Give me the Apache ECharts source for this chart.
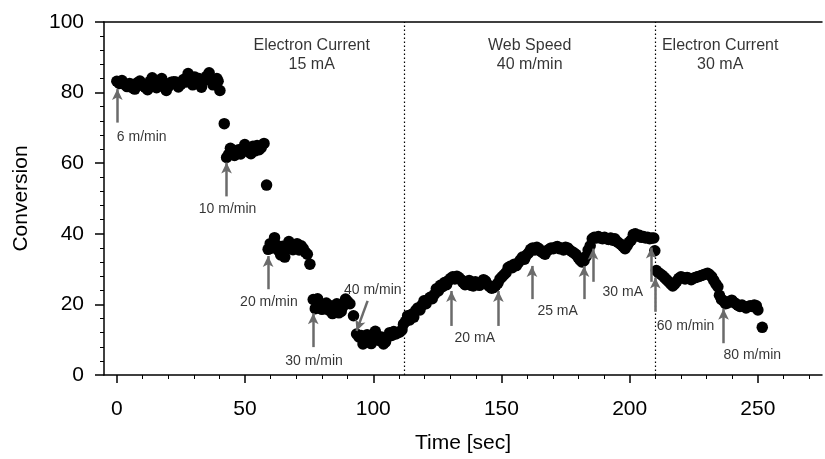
<!DOCTYPE html>
<html>
<head>
<meta charset="utf-8">
<script src="https://cdn.jsdelivr.net/npm/echarts@6/dist/echarts.min.js"></script>
<style>
  html, body { margin: 0; padding: 0; background: #fff; }
  #main { width: 825px; height: 459px; }
</style>
</head>
<body>
<div id="main"></div>
<script>
// conversion vs time, one array per regime  [time (s), conversion]
var speed6 = [[0,83.2],[1,82.6],[2,83.4],[3,82.3],[4,81.7],[5,82.6],[6,81.4],[7,81.0],[8,82.8],[9,83.3],
  [10,82.0],[11,81.5],[12,80.8],[13,83.2],[13.8,84.2],[14.6,82.5],[15.5,81.4],[16.5,83.0],[17.5,84.0],
  [18.5,81.6],[19.3,80.6],[20.2,81.8],[21.2,82.9],[22.2,83.1],[23,83.0],[24,81.6],[25,82.4],[26,83.7],
  [27,83.0],[27.8,85.4],[28.8,83.8],[29.6,82.2],[30.4,84.4],[31.2,83.1],[32,84.0],[33,81.5],[34,83.4],
  [35,84.6],[36,85.6],[36.8,84.0],[37.5,82.2],[38.3,83.0],[39,84.0],[39.5,83.2],[40.2,80.6],[41.9,71.2]];
var speed10 = [[42.8,61.6],[43.6,62.5],[44.3,64.2],[45.1,63.0],[45.9,62.2],[46.7,63.5],[47.5,63.8],
  [48.3,62.6],[49.1,64.0],[49.9,65.3],[50.7,64.5],[51.5,63.2],[52.3,62.7],[53.1,64.8],[53.9,63.5],
  [54.7,65.0],[55.5,63.8],[56.3,64.4],[57.4,65.6],[58.4,53.8]];
var speed20 = [[59,35.6],[59.8,37.2],[60.6,36.0],[61.5,38.9],[62.3,36.8],[63.1,35.2],[63.9,34.0],
  [64.7,36.5],[65.5,33.4],[66.3,35.8],[67.1,37.8],[67.9,37.0],[68.7,35.5],[69.5,36.2],[70.3,37.2],
  [71.1,35.4],[71.9,36.6],[72.7,35.8],[73.5,34.8],[74.3,34.2],[75.3,31.4]];
var speed30 = [[76.6,21.4],[77.4,18.8],[78.3,21.6],[79.1,19.4],[80,18.6],[80.8,19.8],[81.7,20.4],
  [82.5,18.4],[83.3,19.6],[84.1,17.4],[85,18.8],[85.8,20.2],[86.6,17.6],[87.5,18.0],[88.3,19.5],
  [89.2,21.5],[90,20.8],[90.9,20.2],[92.3,16.8]];
var speed40 = [[93.5,11.6],[94.4,10.8],[95.3,11.2],[96,8.8],[96.8,9.8],[97.6,11.4],[98.4,10.6],
  [99.2,8.9],[100,10.5],[100.8,12.4],[101.6,10.0],[102.4,9.8],[103.2,10.8],[104,8.8],[104.8,9.4],
  [105.6,10.8],[106.4,12.0],[107.2,11.2],[108,12.3],[108.8,11.6],[109.6,12.0],[110.4,12.2],
  [111.2,12.8],[111.8,14.4]];
var current20 = [[112.6,15.2],[113.4,16.8],[114.2,15.6],[115,17.2],[115.8,16.4],[116.6,18.3],
  [117.4,19.0],[118.2,18.4],[119,19.8],[119.8,21.0],[120.6,20.2],[121.4,21.4],[122.2,22.0],
  [123,21.6],[123.8,22.8],[124.6,24.4],[125.4,23.8],[126.2,25.4],[127,25.0],[127.8,26.2],
  [128.6,25.6],[129.4,26.8],[130.2,27.4],[131,27.8],[131.8,27.2],[132.6,28.0],[133.4,27.6],
  [134.2,27.0],[135,26.2],[135.8,25.6],[136.6,26.0],[137.4,26.8],[138.2,25.4],[139,25.2],
  [139.8,26.4],[140.6,26.0],[141.4,25.4],[142.2,26.2],[143,27.0],[143.8,26.6],[144.6,25.6],
  [145.4,25.0],[146.2,24.6],[147,24.8],[147.8,25.4],[148.6,26.0]];
var current25 = [[149.4,27.2],[150.2,27.8],[151,28.4],[151.8,29.0],[152.6,30.4],[153.4,30.8],
  [154.2,30.4],[155,31.4],[155.8,31.0],[156.6,31.8],[157.4,32.6],[158.2,33.4],[159,32.8],
  [159.8,34.0],[160.6,34.6],[161.4,35.6],[162.2,36.0],[163,35.4],[163.8,36.2],[164.6,35.8],
  [165.4,35.0],[166.2,34.6],[167,34.2],[167.8,35.2],[168.6,35.6],[169.4,36.0],[170.2,35.8],
  [171,36.2],[171.8,36.4],[172.6,35.8],[173.4,36.0],[174.2,35.4],[175,36.2],[175.8,36.0],
  [176.6,35.4],[177.4,35.0],[178.2,34.6],[179,34.2],[179.8,33.4],[180.6,32.6],[181.4,32.0],
  [182.2,32.4],[183,33.6],[183.8,35.4]];
var current30 = [[184.6,36.6],[185.4,38.6],[186.2,39.0],[187,38.8],[187.8,39.2],[188.6,38.8],
  [189.4,38.6],[190.2,39.0],[191,38.6],[191.8,38.4],[192.6,38.8],[193.4,38.2],[194.2,38.6],
  [195,37.8],[195.8,37.4],[196.6,37.0],[197.4,36.4],[198.2,35.8],[199,36.6],[199.8,37.6],
  [200.6,38.2],[201.4,39.8],[202.2,40.0],[203,39.4],[203.8,39.6],[204.6,39.0],[205.4,39.2],
  [206.2,38.8],[207,39.0],[207.8,38.6],[208.6,38.8],[209.4,38.8],[209.8,35.2]];
var speed60 = [[210.4,29.6],[211.2,29.0],[212,28.6],[212.8,28.2],[213.6,27.6],[214.4,27.0],
  [215.2,26.4],[216,25.8],[216.8,25.2],[217.6,25.8],[218.4,26.6],[219.2,27.4],[220,27.8],
  [220.8,27.6],[221.6,27.2],[222.4,27.6],[223.2,27.4],[224,27.0],[224.8,27.4],[225.6,27.6],
  [226.4,27.8],[227.2,28.0],[228,28.2],[228.8,28.4],[229.6,28.6],[230.4,28.8],[231.2,28.4],
  [232,27.8],[232.8,26.8],[233.6,25.8],[234.4,25.0]];
var speed80 = [[235,22.6],[235.8,21.4],[236.6,21.0],[237.4,20.2],[238.2,20.4],[239,20.8],
  [239.8,21.2],[240.6,20.6],[241.4,20.2],[242.2,19.8],[243,19.4],[243.8,19.8],[244.6,19.4],
  [245.4,19.0],[246.2,19.4],[247,19.6],[247.8,19.4],[248.6,19.8],[249.4,19.6],[250,18.4],[251.7,13.5]];

// arrows: [tail t, tail y, tip t, tip y]
var arrows = [[0.2,71.5,0.2,81.0],[42.8,50.6,42.8,60.2],[59.0,24.3,59.0,33.7],[76.6,7.9,76.6,17.5],
  [97.8,21.0,93.5,12.5],[130.5,13.9,130.5,23.8],[148.8,13.9,148.8,23.8],[161.9,21.5,161.9,30.9],
  [182.2,21.5,182.2,30.9],[185.7,26.4,185.7,35.8],[208.4,26.4,208.4,36.1],[210.0,17.9,210.0,27.6],
  [236.6,9.0,236.6,18.8]];
var arrowLabels = [[9.7,67.5,'6 m/min'],[43.2,46.9,'10 m/min'],[59.3,20.6,'20 m/min'],
  [76.9,4.0,'30 m/min'],[99.8,24.1,'40 m/min'],[139.6,10.5,'20 mA'],[171.9,18.1,'25 mA'],
  [197.3,23.4,'30 mA'],[221.8,13.9,'60 m/min'],[247.8,5.5,'80 m/min']];
var regionLabels = [[76,90.6,'Electron Current\n15 mA'],[161,90.6,'Web Speed\n40 m/min'],
  [235.3,90.6,'Electron Current\n30 mA']];
var dividers = [112, 210];
var xMajor = [0, 50, 100, 150, 200, 250];
var xMinor = [10, 20, 30, 40, 60, 70, 80, 90, 110, 120, 130, 140, 160, 170, 180, 190, 210, 220, 230, 240, 260, 270];

var chart = echarts.init(document.getElementById('main'));
var font = 'Liberation Sans, Arial, sans-serif';
var points = [].concat(speed6, speed10, speed20, speed30, speed40, current20, current25, current30, speed60, speed80);

chart.setOption({
  animation: false,
  backgroundColor: '#fff',
  textStyle: { fontFamily: font },
  grid: { left: 104, right: 3, top: 22, bottom: 83 },
  xAxis: [{
    type: 'value', min: -5, max: 275,
    name: 'Time [sec]', nameLocation: 'middle', nameGap: 58,
    nameTextStyle: { fontSize: 21, color: '#000', fontFamily: font },
    axisLine: { onZero: false, lineStyle: { color: '#000', width: 1.5 } },
    axisTick: { customValues: xMajor, length: 8, lineStyle: { color: '#000', width: 1.5 } },
    axisLabel: { customValues: xMajor, fontSize: 21, color: '#000', margin: 24, fontFamily: font },
    splitLine: { show: false }
  }, {
    // minor ticks
    type: 'value', min: -5, max: 275, position: 'bottom',
    axisLine: { show: false },
    axisTick: { customValues: xMinor, length: 4, lineStyle: { color: '#000', width: 1 } },
    axisLabel: { show: false },
    splitLine: { show: false }
  }, {
    // top frame line
    type: 'value', min: -5, max: 275, position: 'top',
    axisLine: { show: true, lineStyle: { color: '#000', width: 1.5 } },
    axisTick: { show: false }, axisLabel: { show: false }, splitLine: { show: false }
  }],
  yAxis: {
    type: 'value', min: 0, max: 100, interval: 20,
    name: 'Conversion', nameLocation: 'middle', nameGap: 72, nameRotate: 90,
    nameTextStyle: { fontSize: 21, color: '#000', fontFamily: font },
    axisLine: { show: true, onZero: false, lineStyle: { color: '#000', width: 1.5 } },
    axisTick: { length: 9, lineStyle: { color: '#000', width: 1.5 } },
    minorTick: { show: true, splitNumber: 5, length: 4, lineStyle: { color: '#000', width: 1 } },
    axisLabel: { fontSize: 21, color: '#000', margin: 20, fontFamily: font },
    splitLine: { show: false }
  },
  series: [{
    type: 'scatter',
    data: points,
    symbolSize: 11.5,
    itemStyle: { color: '#000', opacity: 1 },
    z: 2,
    markLine: {
      silent: true, symbol: ['none', 'none'],
      label: { show: false },
      lineStyle: { color: '#000', type: [1.5, 2.5], width: 1.2 },
      data: dividers.map(function (d) { return { xAxis: d }; })
    }
  }, {
    type: 'scatter',
    data: [],
    z: 5,
    markLine: {
      silent: true, symbol: ['none', 'arrow'], symbolSize: [8, 11],
      label: { show: false },
      lineStyle: { color: '#6b6b6b', type: 'solid', width: 2.5 },
      data: arrows.map(function (a) {
        return [{ coord: [a[0], a[1]] }, { coord: [a[2], a[3]] }];
      })
    }
  }, {
    type: 'scatter',
    symbolSize: 0,
    z: 6,
    data: arrowLabels.map(function (l) { return { value: [l[0], l[1]], name: l[2] }; }),
    label: {
      show: true, position: 'inside', formatter: '{b}',
      fontSize: 14, color: '#000', textBorderWidth: 0, fontFamily: font
    }
  }, {
    type: 'scatter',
    symbolSize: 0,
    z: 6,
    data: regionLabels.map(function (l) { return { value: [l[0], l[1]], name: l[2] }; }),
    label: {
      show: true, position: 'inside', formatter: '{b}', align: 'center',
      fontSize: 16, lineHeight: 19, color: '#000', textBorderWidth: 0, fontFamily: font
    }
  }]
});
</script>
</body>
</html>
